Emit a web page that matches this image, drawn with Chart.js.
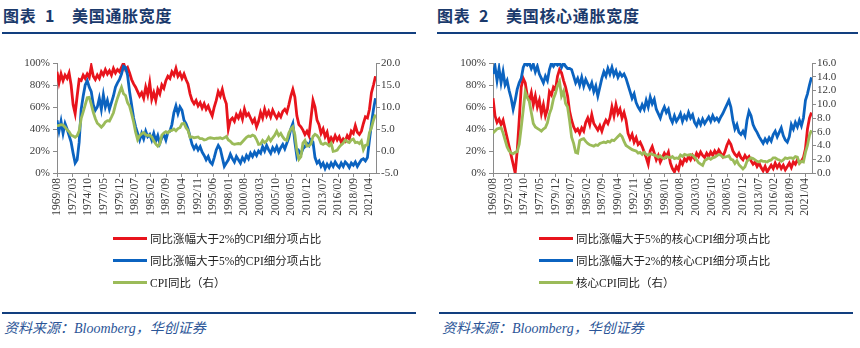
<!DOCTYPE html>
<html>
<head>
<meta charset="utf-8">
<script src="https://cdn.jsdelivr.net/npm/chart.js@4.4.1/dist/chart.umd.min.js"></script>
<style>
  body { margin: 0; width: 860px; height: 348px; background: #fff; position: relative; overflow: hidden; }
  .title { position: absolute; top: 7px; font: bold 16px/16px "Noto Sans CJK SC", sans-serif; color: #1b3a6c; letter-spacing: 0.7px; white-space: nowrap; }
  .title .num { font-family: "Liberation Serif", serif; }
  .rule { position: absolute; height: 2px; background: #123f7f; }
  .plot { position: absolute; top: 45px; }
  .legend-item { position: absolute; height: 18px; display: flex; align-items: center; white-space: nowrap;
                 font: 11.5px "Liberation Serif", "Noto Sans CJK SC", serif; color: #222; }
  .legend-item i { display: inline-block; width: 34px; height: 3px; margin-right: 3px; }
  .source { position: absolute; top: 321px; font: italic 14px/16px "Liberation Serif", "Noto Sans CJK SC", serif; color: #2b5597; white-space: nowrap; }
</style>
</head>
<body>

<div class="title" style="left:3px">图表</div>
<div class="title num" style="left:45px">1</div>
<div class="title" style="left:72px">美国通胀宽度</div>
<div class="rule" style="left:2px; width:414px; top:32px"></div>

<div class="title" style="left:437px">图表</div>
<div class="title num" style="left:479px">2</div>
<div class="title" style="left:506px">美国核心通胀宽度</div>
<div class="rule" style="left:437px; width:421px; top:32px"></div>

<div class="plot" style="left:0px"><canvas id="chartHeadline" width="430" height="185"></canvas></div>
<div class="plot" style="left:437px"><canvas id="chartCore" width="423" height="185"></canvas></div>

<div id="legendHeadline"></div>
<div id="legendCore"></div>

<div class="rule" style="left:2px; width:414px; top:312px"></div>
<div class="rule" style="left:439px; width:414px; top:312px"></div>
<div class="source" style="left:4px">资料来源：Bloomberg，华创证券</div>
<div class="source" style="left:442px">资料来源：Bloomberg，华创证券</div>

<script>
// x axis labels (every 31 months)
const tickLabels = ['1969/08', '1972/03', '1974/10', '1977/05', '1979/12', '1982/07', '1985/02',
  '1987/09', '1990/04', '1992/11', '1995/06', '1998/01', '2000/08', '2003/03', '2005/10',
  '2008/05', '2010/12', '2013/07', '2016/02', '2018/09', '2021/04'];

// observations every 4 months starting 1969/08
const firstDate = '1969/08';
const stepMonths = 4;
const lastMonth = 633;

// --- Figure 1: headline CPI ---
const headlineLabels = ['同比涨幅大于2%的CPI细分项占比', '同比涨幅大于5%的CPI细分项占比', 'CPI同比（右）'];

const share2Headline = [
  92, 82, 90, 84, 89, 86, 91, 80, 62, 54,
  70, 85, 84, 89, 86, 90, 87, 97, 88, 85,
  89, 86, 92, 89, 94, 90, 93, 89, 95, 91,
  94, 92, 96, 100, 94, 96, 91, 85, 81, 78,
  74, 70, 73, 68, 78, 71, 82, 67, 73, 66,
  76, 72, 80, 77, 84, 88, 86, 92, 89, 95,
  88, 91, 86, 90, 85, 81, 72, 66, 63, 66,
  61, 64, 59, 63, 58, 61, 56, 52, 60, 66,
  74, 70, 76, 68, 63, 40, 48, 50, 47, 53,
  50, 55, 49, 58, 52, 54, 50, 46, 49, 42,
  47, 55, 50, 58, 52, 56, 51, 57, 53, 50,
  54, 51, 56, 58, 55, 62, 70, 76, 69, 52,
  44, 42, 39, 35, 38, 34, 50, 66, 60, 48,
  44, 36, 40, 33, 37, 28, 32, 29, 34, 30,
  33, 28, 31, 29, 34, 31, 38, 36, 43, 37,
  35, 38, 45, 51, 50, 58, 73, 80, 88
];

const share5Headline = [
  48, 38, 47, 36, 45, 40, 34, 28, 18, 9,
  12, 28, 58, 70, 80, 84, 78, 74, 62, 57,
  60, 68, 58, 71, 60, 66, 58, 64, 70, 78,
  82, 85, 90, 97, 96, 89, 74, 62, 50, 42,
  36, 30, 36, 31, 38, 33, 35, 30, 36, 29,
  34, 27, 32, 35, 30, 37, 38, 44, 55, 61,
  54, 60, 57, 48, 45, 40, 33, 26, 22, 25,
  21, 24, 19, 16, 12, 15, 10, 8, 14, 21,
  25, 22, 14, 6, 9, 12, 17, 13, 10, 15,
  12, 9, 14, 11, 16, 13, 18, 15, 19, 16,
  20, 18, 24, 20, 25, 21, 18, 23, 20, 24,
  19, 23, 26, 22, 27, 32, 40, 45, 28, 15,
  20, 17, 22, 24, 27, 25, 30, 28, 14, 9,
  11, 6, 9, 4, 8, 5, 9, 6, 10, 7,
  5, 9, 6, 10, 8, 5, 9, 7, 10, 6,
  9, 12, 13, 11, 14, 30, 45, 58, 68
];

const cpiYoy = [
  5.7, 5.8, 6.0, 5.9, 5.4, 4.8, 4.4, 3.6, 3.4, 3.1,
  3.5, 4.6, 7.4, 8.9, 10.5, 12.1, 12.2, 10.6, 8.8, 7.4,
  6.3, 5.9, 5.4, 5.9, 6.6, 6.9, 6.8, 7.7, 8.7, 10.5,
  12.0, 13.3, 14.5, 13.0, 12.6, 11.0, 10.2, 8.5, 6.6, 4.3,
  2.6, 3.5, 3.9, 4.2, 3.7, 3.5, 3.6, 3.2, 2.3, 1.6,
  1.1, 1.6, 3.6, 4.1, 4.4, 4.1, 4.6, 4.7, 5.0, 4.6,
  5.1, 5.3, 6.2, 6.3, 5.3, 4.7, 3.1, 3.2, 3.0, 3.1,
  3.2, 2.8, 2.8, 2.5, 2.6, 2.9, 3.0, 2.9, 2.8, 2.9,
  2.9, 3.0, 2.8, 3.0, 3.3, 2.5, 2.2, 1.7, 1.5, 1.6,
  1.7, 1.6, 2.1, 2.6, 3.1, 3.4, 3.3, 3.6, 3.4, 2.6,
  1.5, 1.6, 2.4, 1.9, 2.3, 3.1, 2.3, 3.0, 3.6, 4.5,
  3.5, 4.0, 3.2, 2.6, 2.4, 4.1, 5.0, 5.5, 3.7, 0.1,
  -1.9, -1.3, 1.8, 2.4, 1.1, 1.2, 1.6, 3.3, 3.8, 3.5,
  2.9, 1.7, 1.5, 1.8, 1.6, 1.2, 1.8, -0.1, 0.0, 0.2,
  0.9, 1.4, 1.8, 2.5, 2.1, 1.9, 2.5, 2.7, 1.9, 2.0,
  1.7, 2.3, 0.3, 1.3, 1.4, 4.2, 5.3, 7.0, 8.3
];

// --- Figure 2: core CPI ---
const coreLabels = ['同比涨幅大于5%的核心CPI细分项占比', '同比涨幅大于2%的核心CPI细分项占比', '核心CPI同比（右）'];

const share5Core = [
  68, 52, 46, 49, 44, 48, 40, 32, 24, 16,
  8, 0, 20, 48, 78, 86, 82, 70, 66, 73,
  62, 70, 60, 66, 54, 62, 52, 58, 74, 71,
  78, 76, 88, 94, 91, 84, 78, 70, 56, 48,
  42, 38, 40, 36, 41, 38, 46, 50, 44, 53,
  45, 42, 39, 43, 38, 44, 48, 45, 50, 60,
  52, 62, 54, 58, 50, 55, 48, 36, 31, 35,
  28, 32, 26, 28, 24, 19, 14, 8, 20, 24,
  18, 12, 16, 10, 14, 18, 15, 19, 9, 4,
  1, 6, 3, 11, 8, 13, 11, 15, 12, 16,
  13, 18, 15, 19, 16, 14, 18, 15, 19, 16,
  20, 17, 21, 18, 15, 19, 25, 29, 26, 20,
  17, 15, 18, 14, 12, 16, 13, 15, 11, 8,
  10, 6, 9, 5, 2, 6, 1, 4, 7, 4,
  9, 5, 8, 4, 7, 3, 6, 9, 5, 10,
  8, 12, 9, 11, 14, 22, 40, 50, 55
];

const share2Core = [
  90, 97, 84, 95, 82, 92, 80, 84, 75, 68,
  58, 66, 76, 82, 86, 96, 100, 98, 100, 95,
  99, 92, 97, 90, 86, 82, 88, 84, 94, 100,
  97, 100, 98, 100, 96, 100, 97, 95, 95, 94,
  88, 82, 86, 80, 87, 79, 85, 81, 77, 82,
  74, 79, 70, 78, 86, 92, 88, 95, 90, 96,
  89, 93, 87, 91, 88, 90, 86, 80, 74, 68,
  72, 64, 60, 57, 62, 58, 66, 60, 69, 63,
  67, 58, 54, 50, 56, 60, 55, 58, 50, 46,
  52, 47, 50, 54, 47, 52, 49, 55, 50, 53,
  46, 43, 48, 44, 49, 45, 48, 51, 47, 52,
  48, 50, 47, 51, 54, 58, 62, 66, 60, 48,
  40, 44, 37, 35, 38, 34, 48, 56, 52, 44,
  40, 37, 33, 30, 27, 31, 28, 32, 29, 35,
  38, 33, 37, 41, 34, 30, 28, 33, 44, 40,
  46, 42, 48, 43, 50, 66, 72, 80, 87
];

const coreCpiYoy = [
  5.8, 6.1, 6.4, 6.5, 6.6, 5.8, 4.8, 3.8, 3.2, 2.9,
  2.8, 3.0, 3.1, 4.2, 6.6, 9.2, 11.8, 11.0, 10.4, 8.8,
  7.2, 6.7, 6.5, 6.3, 6.1, 6.4, 6.6, 7.3, 8.6, 9.4,
  10.8, 11.6, 12.7, 13.3, 11.2, 11.9, 10.1, 9.6, 7.6, 5.2,
  4.3, 3.0, 2.9, 4.7, 4.9, 5.0, 4.6, 4.3, 4.1, 4.0,
  3.9, 4.1, 4.0, 4.3, 4.4, 4.5, 4.4, 4.6, 4.5, 4.8,
  4.7, 5.0, 5.3, 5.6, 5.3, 4.6, 4.0, 3.8, 3.6, 3.4,
  3.3, 3.2, 2.9, 3.0, 2.7, 3.0, 2.7, 2.6, 2.8, 2.7,
  2.6, 2.5, 2.3, 2.5, 2.2, 2.1, 2.4, 2.3, 2.2, 2.4,
  2.1, 2.2, 2.1, 2.6, 2.4, 2.7, 2.6, 2.6, 2.7, 2.6,
  2.3, 1.9, 1.5, 1.3, 1.1, 1.8, 2.0, 2.2, 2.0, 2.2,
  2.3, 2.5, 2.7, 2.6, 2.3, 2.3, 2.4, 2.5, 2.0, 1.9,
  1.4, 1.8, 1.2, 0.9, 0.6, 0.9, 1.7, 2.0, 2.2, 2.1,
  1.9, 1.7, 1.6, 1.8, 1.7, 1.7, 1.6, 1.8, 1.9, 2.2,
  2.2, 2.0, 1.9, 1.7, 1.9, 2.2, 2.1, 2.2, 2.2, 2.1,
  2.4, 2.3, 1.4, 1.7, 1.6, 3.0, 4.0, 5.5, 6.2
];

const RED = '#e8141c';
const BLUE = '#0b63c0';
const GREEN = '#9bbb59';
const AXIS = '#8a8a8a';
const TICK_FONT = { family: '"Liberation Serif", serif', size: 11 };
const X_TICK_FONT = { family: '"Liberation Serif", serif', size: 11.5 };
const TICK_COLOR = '#3a3a3a';

// months since first date
function monthIndex(label) {
  const [y, m] = label.split('/').map(Number);
  const [y0, m0] = firstDate.split('/').map(Number);
  return (y - y0) * 12 + (m - m0);
}

function toPoints(values) {
  return values.map((v, i) => ({ x: i * stepMonths, y: v }));
}

function lineSet(label, values, color, axis, order) {
  return {
    label,
    data: toPoints(values),
    yAxisID: axis,
    borderColor: color,
    borderWidth: 2.8,
    pointRadius: 0,
    tension: 0,
    fill: false,
    order
  };
}

function axisLines() {
  return {
    grid: { display: true, drawOnChartArea: false, drawTicks: true, tickLength: 4, color: AXIS },
    border: { display: true, color: AXIS, width: 1 }
  };
}

function buildChart(canvasId, datasets, rightMin, rightMax, rightStep, leftWidth, rightWidth) {
  const ctx = document.getElementById(canvasId).getContext('2d');
  return new Chart(ctx, {
    type: 'line',
    data: { datasets },
    options: {
      responsive: false,
      animation: false,
      layout: { padding: { top: 18, left: 0, right: 0, bottom: 0 } },
      plugins: { legend: { display: false }, tooltip: { enabled: false } },
      scales: {
        x: {
          type: 'linear',
          min: 0,
          max: lastMonth,
          afterBuildTicks: axis => { axis.ticks = tickLabels.map(l => ({ value: monthIndex(l) })); },
          afterFit: s => { s.height = 57; },
          ticks: {
            autoSkip: false, minRotation: 90, maxRotation: 90, padding: 1,
            font: X_TICK_FONT, color: TICK_COLOR,
            callback: (v, i) => tickLabels[i]
          },
          ...axisLines()
        },
        y: {
          position: 'left',
          min: 0, max: 100,
          afterFit: s => { s.width = leftWidth; },
          ticks: { autoSkip: false, stepSize: 20, padding: 3, font: TICK_FONT, color: TICK_COLOR, callback: v => v + '%' },
          ...axisLines()
        },
        y1: {
          position: 'right',
          min: rightMin, max: rightMax,
          afterFit: s => { s.width = rightWidth; },
          ticks: { autoSkip: false, stepSize: rightStep, padding: 1, font: TICK_FONT, color: TICK_COLOR, callback: v => v.toFixed(1) },
          ...axisLines()
        }
      }
    }
  });
}

function buildLegend(containerId, labels, colors, left) {
  const box = document.getElementById(containerId);
  labels.forEach((text, i) => {
    const item = document.createElement('div');
    item.className = 'legend-item';
    item.style.left = left + 'px';
    item.style.top = (229 + i * 22) + 'px';
    item.innerHTML = '<i style="background:' + colors[i] + '"></i><span></span>';
    item.querySelector('span').textContent = text;
    box.appendChild(item);
  });
}

buildChart('chartHeadline', [
  lineSet(headlineLabels[0], share2Headline, RED, 'y', 2),
  lineSet(headlineLabels[1], share5Headline, BLUE, 'y', 1),
  lineSet(headlineLabels[2], cpiYoy, GREEN, 'y1', 0)
], -5, 20, 5, 57, 54);

buildChart('chartCore', [
  lineSet(coreLabels[0], share5Core, RED, 'y', 2),
  lineSet(coreLabels[1], share2Core, BLUE, 'y', 1),
  lineSet(coreLabels[2], coreCpiYoy, GREEN, 'y1', 0)
], 0, 16, 2, 56, 48);

buildLegend('legendHeadline', headlineLabels, [RED, BLUE, GREEN], 113);
buildLegend('legendCore', coreLabels, [RED, BLUE, GREEN], 539);
</script>
</body>
</html>
